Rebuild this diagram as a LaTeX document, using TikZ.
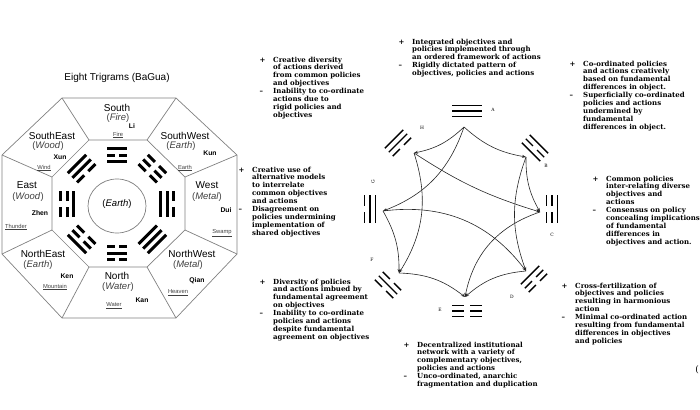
\documentclass[tikz,border=0pt]{standalone}
\usepackage{fontspec}
\setmainfont{DejaVu Serif}
\setsansfont{Liberation Sans}
\usetikzlibrary{arrows.meta}

% centre, rotation, radial offset, half length, spacing, bits (inner to outer)
\newcommand{\trigram}[6]{%
  \begin{scope}[shift={#1},rotate=#2]
    \foreach \b [count=\i] in {#6} {
      \pgfmathsetmacro{\yy}{#3+(2-\i)*#5}
      \ifnum\b=1
        \draw (-#4,\yy) -- (#4,\yy);
      \else
        \draw (-#4,\yy) -- ({-0.22*#4},\yy) ({0.22*#4},\yy) -- (#4,\yy);
      \fi
    }
  \end{scope}}
\newcommand{\notes}[1]{\begin{tabular}{@{}p{13.5pt}@{}l@{}}#1\end{tabular}}

\begin{document}
\begin{tikzpicture}[x=1pt,y=-1pt,
  edge/.style={draw=gray,line width=0.7pt},
  region/.style={font=\sffamily\fontsize{10}{10}\selectfont,inner sep=0pt},
  element/.style={font=\sffamily\fontsize{9.5}{10}\selectfont,text=darkgray,inner sep=0pt},
  pinyin/.style={font=\sffamily\bfseries\fontsize{6.8}{7}\selectfont,inner sep=0pt},
  nature/.style={font=\sffamily\fontsize{5.8}{6}\selectfont,text=darkgray,inner sep=0pt},
  note/.style={anchor=north west,inner sep=0pt,font=\bfseries\fontsize{7}{7.9}\selectfont},
  letter/.style={font=\fontsize{4.5}{5}\selectfont,inner sep=0pt},
  flow/.style={line width=0.6pt,draw=black!85,-{Stealth[length=4pt,width=3pt]}}]
\useasboundingbox (0,0) rectangle (700,409);

% bagua
\node[region] (title) at (117,78) {Eight Trigrams (BaGua)};
\draw[edge] (62,98) -- (176,98) -- (237,155) -- (237,254) -- (176,318)
  -- (62,318) -- (2,254) -- (2,155) -- cycle;
\draw[edge] (89,140) -- (147,140) -- (185,177) -- (185,230) -- (147,267)
  -- (89,267) -- (52,230) -- (52,177) -- cycle;
\draw[edge] (89,140) -- (62,98) (147,140) -- (176,98) (185,177) -- (237,155)
  (185,230) -- (237,254) (147,267) -- (176,318) (89,267) -- (62,318)
  (52,230) -- (2,254) (52,177) -- (2,155);
\draw[edge] (117,206) ellipse (29 and 27);
\node[element,text=black] (earth) at (117,204) {(\textit{Earth})};

\begin{scope}[line width=3pt]
\trigram{(117,204)}{0}{-49}{10}{6.5}{1,0,1}
\trigram{(117,204)}{45}{-50}{13}{6.5}{0,1,1}
\trigram{(117,204)}{90}{-50}{13}{6.5}{1,0,0}
\trigram{(117,204)}{135}{-50}{13}{6.5}{0,0,1}
\trigram{(117,204)}{180}{-49}{10}{6.5}{0,1,0}
\trigram{(117,204)}{225}{-50}{13}{6.5}{1,1,1}
\trigram{(117,204)}{270}{-50}{13}{6.5}{1,1,0}
\trigram{(117,204)}{315}{-50}{13}{6.5}{0,0,0}
\end{scope}

\node[region] (s) at (117,108) {South};
\node[element] (s2) at (118,118) {(\textit{Fire})};
\node[pinyin] (s3) at (132,126) {Li};
\node[nature] (s4) at (118,135) {\underline{Fire}};
\node[region] (se) at (52,136) {SouthEast};
\node[element] (se2) at (48,146) {(\textit{Wood})};
\node[pinyin] (se3) at (60,157) {Xun};
\node[nature] (se4) at (44,168) {\underline{Wind}};
\node[region] (sw) at (185,136) {SouthWest};
\node[element] (sw2) at (181,146) {(\textit{Earth})};
\node[pinyin] (sw3) at (210,153) {Kun};
\node[nature] (sw4) at (185,168) {\underline{Earth}};
\node[region] (e) at (27,185) {East};
\node[element] (e2) at (28,197) {(\textit{Wood})};
\node[pinyin] (e3) at (40,213) {Zhen};
\node[nature] (e4) at (16,227) {\underline{Thunder}};
\node[region] (w) at (207,185) {West};
\node[element] (w2) at (207,197) {(\textit{Metal})};
\node[pinyin] (w3) at (226,210) {Dui};
\node[nature] (w4) at (222,233) {\underline{Swamp}};
\node[region] (ne) at (43,254) {NorthEast};
\node[element] (ne2) at (38,265) {(\textit{Earth})};
\node[pinyin] (ne3) at (67,276) {Ken};
\node[nature] (ne4) at (55,287) {\underline{Mountain}};
\node[region] (n) at (117,276) {North};
\node[element] (n2) at (118,287) {(\textit{Water})};
\node[pinyin] (n3) at (142,300) {Kan};
\node[nature] (n4) at (114,306) {\underline{Water}};
\node[region] (nw) at (192,254) {NorthWest};
\node[element] (nw2) at (188,265) {(\textit{Metal})};
\node[pinyin] (nw3) at (197,281) {Qian};
\node[nature] (nw4) at (178,293) {\underline{Heaven}};

% transformation diagram
\begin{scope}[line width=1.4pt]
\trigram{(467,111)}{0}{0}{15}{5.5}{1,1,1}
\trigram{(535,148)}{315}{0}{13}{5.5}{1,0,1}
\trigram{(552,209)}{270}{0}{14}{5.5}{0,0,1}
\trigram{(534,279)}{225}{0}{13}{5.5}{1,0,0}
\trigram{(467,311)}{180}{0}{15}{5.5}{0,0,0}
\trigram{(388,285)}{135}{0}{13}{5.5}{0,1,0}
\trigram{(370,209)}{90}{0}{14}{5.5}{1,1,0}
\trigram{(398,143)}{45}{0}{13}{5.5}{0,1,1}
\end{scope}
\node[letter] (la) at (493,110) {A};
\node[letter] (lb) at (546,166) {B};
\node[letter] (lc) at (552,235) {C};
\node[letter] (ld) at (512,297) {D};
\node[letter] (le) at (440,310) {E};
\node[letter] (lf) at (372,260) {F};
\node[letter,rotate=90] (lg) at (373,182) {G};
\node[letter] (lh) at (422,128) {H};

\coordinate (pA) at (464,127);
\coordinate (pB) at (526,157);
\coordinate (pC) at (540,212);
\coordinate (pD) at (526,271);
\coordinate (pE) at (465,297);
\coordinate (pF) at (399,273);
\coordinate (pG) at (383,211);
\coordinate (pH) at (414,153);

\draw[flow] (pA) to[bend right=16] (pB);
\draw[flow] (pA) to[bend left=16] (pH);
\draw[flow] (pA) to[bend left=25] (pG);
\draw[flow] (pB) to[bend right=15] (pC);
\draw[flow] (pB) to[bend right=20] (pD);
\draw[flow] (pH) to[bend right=8] (pC);
\draw[flow] (pH) to[bend left=25] (pF);
\draw[flow] (pG) to[bend left=15] (pF);
\draw[flow] (pG) to[bend left=30] (pD);
\draw[flow] (pC) to[bend right=30] (pE);
\draw[flow] (pD) to[bend right=18] (pE);
\draw[flow] (pF) to[bend left=18] (pE);

\node[note] (n1) at (259.5,56.3) {\notes{+ & Creative diversity\\ & of actions derived\\
  & from common policies\\ & and objectives\\ – & Inability to co-ordinate\\
  & actions due to\\ & rigid policies and\\ & objectives}};
\node[note] (n2) at (398.5,38.3) {\notes{+ & Integrated objectives and\\
  & policies implemented through\\ & an ordered framework of actions\\
  – & Rigidly dictated pattern of\\ & objectives, policies and actions}};
\node[note] (n3) at (569.5,60.3) {\notes{+ & Co-ordinated policies\\
  & and actions creatively\\ & based on fundamental\\ & differences in object.\\
  – & Superficially co-ordinated\\ & policies and actions\\ & undermined by\\
  & fundamental\\ & differences in object.}};
\node[note] (n4) at (238.5,166.3) {\notes{+ & Creative use of\\ & alternative models\\
  & to interrelate\\ & common objectives\\ & and actions\\ – & Disagreement on\\
  & policies undermining\\ & implementation of\\ & shared objectives}};
\node[note] (n5) at (592.5,175.3) {\notes{+ & Common policies\\
  & inter-relating diverse\\ & objectives and\\ & actions\\ – & Consensus on policy\\
  & concealing implications\\ & of fundamental\\ & differences in\\
  & objectives and action.}};
\node[note] (n6) at (259.5,278.3) {\notes{+ & Diversity of policies\\
  & and actions imbued by\\ & fundamental agreement\\ & on objectives\\
  – & Inability to co-ordinate\\ & policies and actions\\ & despite fundamental\\
  & agreement on objectives}};
\node[note] (n7) at (561.5,282.3) {\notes{+ & Cross-fertilization of\\
  & objectives and policies\\ & resulting in harmonious\\ & action\\
  – & Minimal co-ordinated action\\ & resulting from fundamental\\
  & differences in objectives\\ & and policies}};
\node[note] (n8) at (403.5,341.3) {\notes{+ & Decentralized institutional\\
  & network with a variety of\\ & complementary objectives,\\ & policies and actions\\
  – & Unco-ordinated, anarchic\\ & fragmentation and duplication}};
\node[font=\fontsize{9}{9}\selectfont,inner sep=0pt] (paren) at (697,370) {(};
\end{tikzpicture}
\end{document}
